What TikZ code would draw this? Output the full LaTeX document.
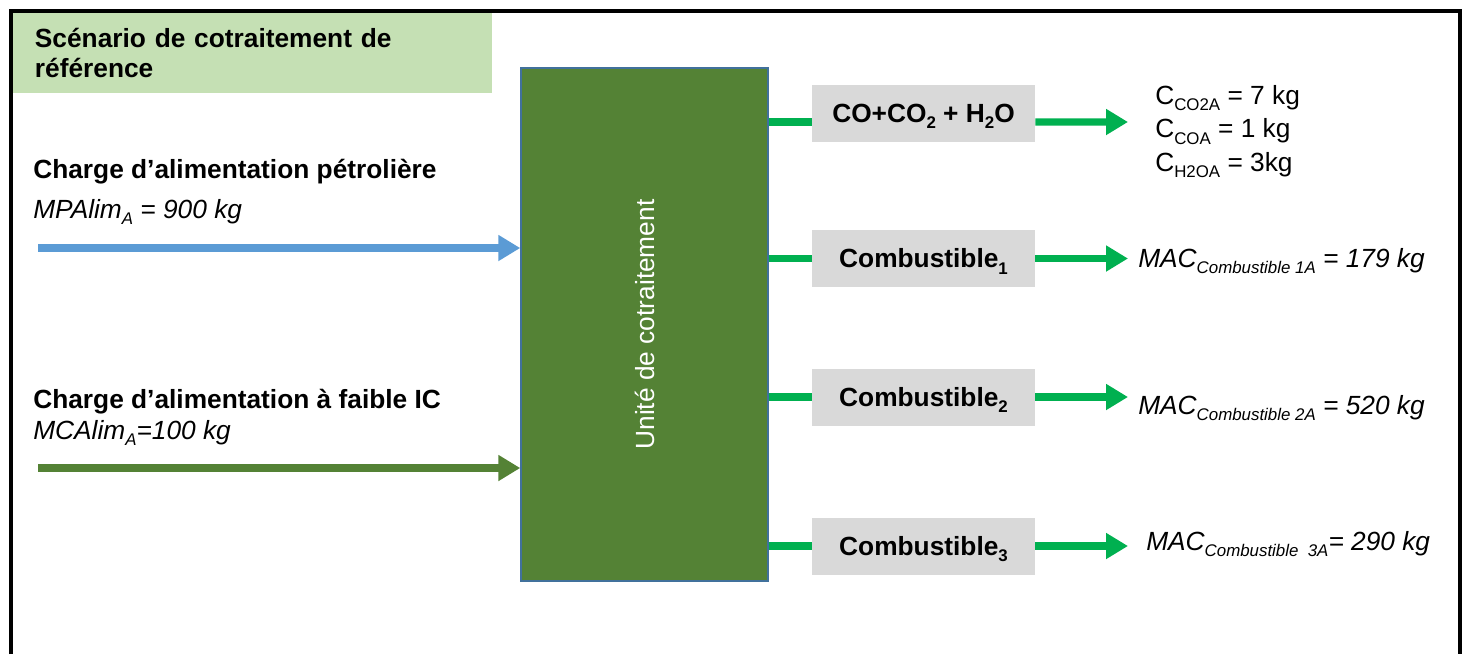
\documentclass[tikz,border=0pt]{standalone}
\usepackage{fontspec}
\setmainfont{Liberation Sans}
\usetikzlibrary{arrows.meta,positioning}
\definecolor{titlefill}{HTML}{C5E0B4}
\definecolor{unitfill}{HTML}{548235}
\definecolor{unitline}{HTML}{41719C}
\definecolor{feedblue}{HTML}{5B9BD5}
\definecolor{feedgreen}{HTML}{548235}
\definecolor{outgreen}{HTML}{00B050}
\definecolor{prodfill}{HTML}{D9D9D9}
\newcommand{\diagsize}{\fontsize{18.7}{21.3}\selectfont}
\newcommand{\subtxt}[1]{\raisebox{-4.5pt}[0pt][0pt]{\fontsize{12}{12}\selectfont #1}}
\tikzset{
 every node/.append style={font=\diagsize,text=black},
 outerframe/.style={draw=black,line width=2.9pt},
 titlebox/.style={fill=titlefill,minimum width=11.975cm,minimum height=2cm,inner xsep=.55cm,text width=10.875cm,align=left,font=\diagsize\bfseries},
 cobox/.style={draw=unitline,fill=unitfill,line width=1pt,minimum width=6.175cm,minimum height=12.825cm},
 unitlabel/.style={text=white,inner sep=0pt},
 product/.style={fill=prodfill,minimum width=5.575cm,minimum height=1.425cm,inner sep=0pt,font=\diagsize\bfseries},
 feedname/.style={anchor=base west,inner sep=0pt,font=\diagsize\bfseries},
 feedmass/.style={anchor=base west,inner sep=0pt,font=\diagsize\itshape},
 outmass/.style={anchor=base west,inner sep=0pt,font=\diagsize\itshape},
 feed/.style={-{Triangle[length=5.5mm,width=6.2mm]},line width=5pt},
 link/.style={draw=outgreen,line width=5pt},
 outflow/.style={-{Triangle[length=5.5mm,width=6.2mm]},draw=outgreen,line width=5pt},
}
\begin{document}
\begin{tikzpicture}[x=.025cm,y=-.025cm]

\useasboundingbox (0,0) rectangle (1466,654);
\draw[outerframe] (11,654) -- (11,11) -- (1460,11) -- (1460,654);
\node[titlebox] (scenario) at (252.5,53) {Scénario de cotraitement de\\référence};

% feeds
\node[feedname] (petroname) at (33,178) {Charge d’alimentation pétrolière};
\node[feedmass] (petromass) at (33,218) {MPAlim\subtxt{A} = 900 kg};
\node[feedname] (lowciname) at (33,408) {Charge d’alimentation à faible IC};
\node[feedmass] (lowcimass) at (33,439) {MCAlim\subtxt{A}=100 kg};

\node[cobox] (unit) at (644.5,324.5) {};
\node[unitlabel,rotate=90] (unitname) at (unit.center) {Unité de cotraitement};

\coordinate (petrostart) at (38,248);
\coordinate (lowcistart) at (38,468);
\draw[feed,feedblue] (petrostart) -- (petrostart -| unit.west);
\draw[feed,feedgreen] (lowcistart) -- (lowcistart -| unit.west);

% products
\node[product] (gases) at (923.5,113) {CO+CO\subtxt{2} + H\subtxt{2}O};
\node[product] (fuel1) at (923.5,258.5) {Combustible\subtxt{1}};
\node[product] (fuel2) at (923.5,397) {Combustible\subtxt{2}};
\node[product] (fuel3) at (923.5,546) {Combustible\subtxt{3}};

\coordinate (gastap) at ([yshift=-.225cm]gases.west);
\coordinate (gasend) at (1128,122);
\draw[link] (gastap -| unit.east) -- (gastap);
\draw[link] (fuel1.west -| unit.east) -- (fuel1.west);
\draw[link] (fuel2.west -| unit.east) -- (fuel2.west);
\draw[link] (fuel3.west -| unit.east) -- (fuel3.west);
\draw[outflow] (gastap -| gases.east) -- (gasend);
\draw[outflow] (fuel1.east) -- (fuel1.east -| gasend);
\draw[outflow] (fuel2.east) -- (fuel2.east -| gasend);
\draw[outflow] (fuel3.east) -- (fuel3.east -| gasend);

\node[anchor=west,inner sep=0pt,align=left,font=\fontsize{18.7}{24}\selectfont] (gasmass) at (1155,131) {C\subtxt{CO2A} = 7 kg\\C\subtxt{COA} = 1 kg\\C\subtxt{H2OA} = 3kg};
\node[outmass] (fuel1mass) at (1138,267) {MAC\subtxt{Combustible 1A} = 179 kg};
\node[outmass] (fuel2mass) at (1138,414) {MAC\subtxt{Combustible 2A} = 520 kg};
\node[outmass] (fuel3mass) at (1146,550) {MAC\subtxt{Combustible~~3A}= 290 kg};

\end{tikzpicture}
\end{document}
